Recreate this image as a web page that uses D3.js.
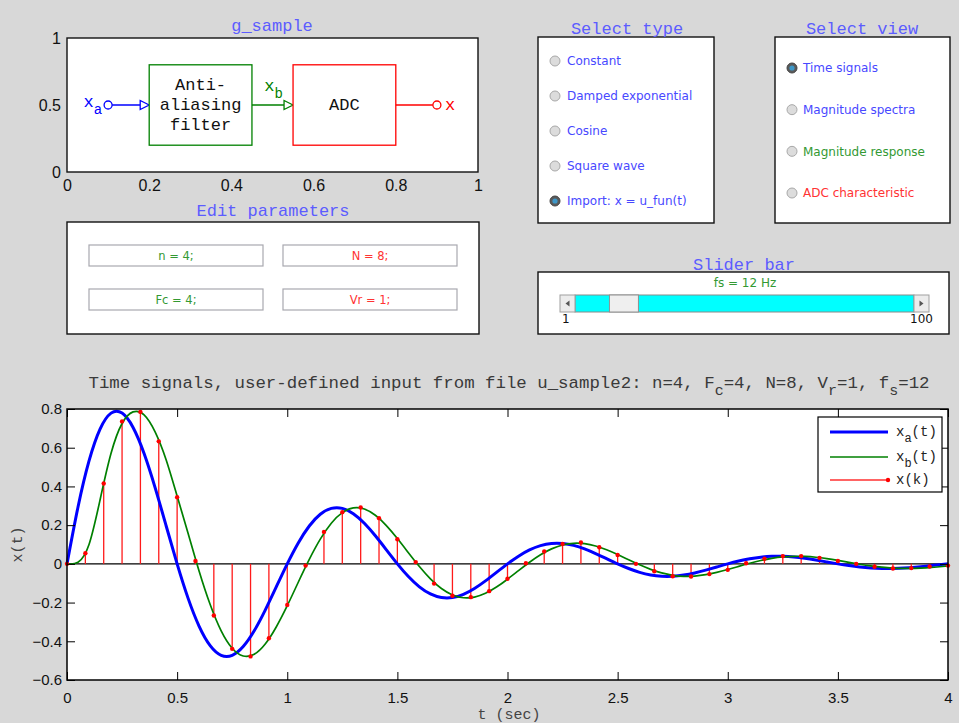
<!DOCTYPE html>
<html>
<head>
<meta charset="utf-8">
<script src="https://cdn.jsdelivr.net/npm/d3@7"></script>
<style>
  body { margin: 0; background: #d8d8d8; }
  svg { display: block; }
</style>
</head>
<body>
<svg id="fig" width="959" height="723"></svg>
<script>
// ---------- data ----------
const dt = 0.05;          // spacing of the continuous-time curves (sec)
const fs = 12;            // sampling rate (Hz)

// x_a(t), t = 0 .. 4 step 0.05
const xa = [0, 0.2939, 0.5319, 0.6963, 0.7787, 0.7788, 0.7046, 0.5701, 0.3940, 0.1970,
  0, -0.1783, -0.3226, -0.4223, -0.4723, -0.4724, -0.4273, -0.3458, -0.2390, -0.1195,
  0, 0.1081, 0.1957, 0.2562, 0.2865, 0.2865, 0.2592, 0.2097, 0.1449, 0.0725,
  0, -0.0656, -0.1187, -0.1554, -0.1737, -0.1738, -0.1572, -0.1272, -0.0879, -0.0440,
  0, 0.0398, 0.0720, 0.0942, 0.1054, 0.1054, 0.0954, 0.0772, 0.0533, 0.0267,
  0, -0.0241, -0.0437, -0.0572, -0.0639, -0.0639, -0.0578, -0.0468, -0.0323, -0.0162,
  0, 0.0146, 0.0265, 0.0347, 0.0388, 0.0388, 0.0351, 0.0284, 0.0196, 0.0098,
  0, -0.0089, -0.0161, -0.0210, -0.0235, -0.0235, -0.0213, -0.0172, -0.0119, -0.0059,
  0];

// x_b(t), same time grid
const xb = [0, 0.008, 0.10, 0.33, 0.571, 0.725, 0.785, 0.770, 0.682, 0.538,
  0.350, 0.157, -0.038, -0.210, -0.346, -0.436, -0.476, -0.467, -0.414, -0.326,
  -0.216, -0.095, 0.0229, 0.1275, 0.2101, 0.2647, 0.2888, 0.2831, 0.2509, 0.1978,
  0.1308, 0.0578, -0.0139, -0.0774, -0.1274, -0.1605, -0.1752, -0.1717, -0.1522, -0.1200,
  -0.0794, -0.0350, 0.0084, 0.0469, 0.0773, 0.0974, 0.1063, 0.1042, 0.0923, 0.0728,
  0.0481, 0.0212, -0.0051, -0.0285, -0.0469, -0.0591, -0.0644, -0.0632, -0.0560, -0.0441,
  -0.0292, -0.0129, 0.0031, 0.0173, 0.0284, 0.0358, 0.0391, 0.0383, 0.0340, 0.0268,
  0.0177, 0.0078, -0.0019, -0.0105, -0.0172, -0.0217, -0.0237, -0.0232, -0.0206, -0.0162,
  -0.0107];

// x(k), k = 0 .. 48 (t = k / fs)
const xk = [0, 0.055, 0.415, 0.736, 0.785, 0.633, 0.344, 0.015, -0.267, -0.439,
  -0.478, -0.384, -0.212, -0.009, 0.165, 0.267, 0.291, 0.236, 0.127, 0.009,
  -0.102, -0.165, -0.172, -0.141, -0.077, 0.003, 0.064, 0.103, 0.110, 0.086,
  0.046, 0.000, -0.038, -0.064, -0.065, -0.053, -0.031, 0.003, 0.026, 0.040,
  0.040, 0.031, 0.015, 0, -0.015, -0.024, -0.022, -0.014, -0.009];

const xTicks = [0, 0.5, 1, 1.5, 2, 2.5, 3, 3.5, 4];
const yTicks = [-0.6, -0.4, -0.2, 0, 0.2, 0.4, 0.6, 0.8];
const blockXTicks = [0, 0.2, 0.4, 0.6, 0.8, 1];
const blockYTicks = [0, 0.5, 1];

const typeOptions = ["Constant", "Damped exponential", "Cosine", "Square wave", "Import: x = u_fun(t)"];
const typeSelected = 4;
const viewOptions = ["Time signals", "Magnitude spectra", "Magnitude response", "ADC characteristic"];
const viewSelected = 0;
const params = [["n = 4;", "N = 8;"], ["Fc = 4;", "Vr = 1;"]];
const sliderMin = 1, sliderMax = 100;

// ---------- styles ----------
const mono = "'Liberation Mono','Courier New',monospace";
const sans = "'Liberation Sans',Arial,Helvetica,sans-serif";
const ui = "'DejaVu Sans',Verdana,sans-serif";
const uiBlue = "#4848ff", uiGreen = "#339933", uiRed = "#ff3333", titleBlue = "#5c5cff";
const viewColors = [uiBlue, uiBlue, uiGreen, uiRed];
const paramColors = [[uiGreen, uiRed], [uiGreen, uiRed]];

const svg = d3.select("#fig");
const fmt = d => d < 0 ? "\u2212" + Math.abs(d) : String(d);

function styleTicks(g, size) {
  g.select(".domain").remove();
  g.selectAll("text").attr("font-family", sans).attr("font-size", size).attr("fill", "#111");
  g.selectAll("line").attr("stroke", "#000");
}

function panelTitle(cx, cy, txt) {
  svg.append("text").attr("x", cx).attr("y", cy + 5)
    .attr("text-anchor", "middle").attr("font-family", mono).attr("font-size", 17)
    .attr("fill", titleBlue).text(txt);
}

function frame(x, y, w, h) {
  svg.append("rect").attr("x", x).attr("y", y).attr("width", w).attr("height", h)
    .attr("fill", "#fff").attr("stroke", "#111").attr("stroke-width", 1.4);
}

// ---------- block diagram ----------
const bx = d3.scaleLinear([0, 1], [67, 478]);
const by = d3.scaleLinear([0, 1], [172, 38]);

frame(bx(0), by(1), bx(1) - bx(0), by(0) - by(1));
panelTitle(272, 26, "g_sample");

svg.append("g").attr("transform", `translate(0,${by(0)})`)
  .call(d3.axisBottom(bx).tickValues(blockXTicks).tickSize(0).tickPadding(8).tickFormat(fmt))
  .call(g => styleTicks(g, 16));
svg.append("g").attr("transform", `translate(${bx(0)},0)`)
  .call(d3.axisLeft(by).tickValues(blockYTicks).tickSize(0).tickPadding(6).tickFormat(fmt))
  .call(g => styleTicks(g, 16));

const diag = svg.append("g");
function arrowHead(x, y, col) {
  diag.append("path").attr("d", `M${x},${y} L${x - 9},${y - 4.5} L${x - 9},${y + 4.5} Z`)
    .attr("fill", "#fff").attr("stroke", col).attr("stroke-width", 1.3);
}
function block(x0, x1, col, lines) {
  diag.append("rect").attr("x", bx(x0)).attr("y", by(0.8))
    .attr("width", bx(x1) - bx(x0)).attr("height", by(0.2) - by(0.8))
    .attr("fill", "#fff").attr("stroke", col).attr("stroke-width", 1.3);
  const cx = bx((x0 + x1) / 2), cy = by(0.5);
  lines.forEach((s, i) => {
    diag.append("text").attr("x", cx).attr("y", cy + 5 + (i - (lines.length - 1) / 2) * 20)
      .attr("text-anchor", "middle").attr("font-family", mono).attr("font-size", 17)
      .attr("fill", "#111").text(s);
  });
}
// input
diag.append("line").attr("x1", bx(0.1) + 4).attr("x2", bx(0.2) - 9).attr("y1", by(0.5)).attr("y2", by(0.5))
  .attr("stroke", "#0000ff").attr("stroke-width", 1.5);
diag.append("circle").attr("cx", bx(0.1)).attr("cy", by(0.5)).attr("r", 4)
  .attr("fill", "#fff").attr("stroke", "#0000ff").attr("stroke-width", 1.3);
arrowHead(bx(0.2), by(0.5), "#0000ff");
diag.append("text").attr("x", bx(0.04)).attr("y", by(0.5) + 2)
  .attr("font-family", mono).attr("font-size", 17).attr("fill", "#0000ff")
  .text("x").append("tspan").attr("dy", 7).attr("font-size", 14).text("a");
block(0.2, 0.45, "#008000", ["Anti-", "aliasing", "filter"]);
// middle
diag.append("line").attr("x1", bx(0.45)).attr("x2", bx(0.55) - 9).attr("y1", by(0.5)).attr("y2", by(0.5))
  .attr("stroke", "#008000").attr("stroke-width", 1.5);
arrowHead(bx(0.55), by(0.5), "#008000");
diag.append("text").attr("x", bx(0.48)).attr("y", by(0.5) - 14)
  .attr("font-family", mono).attr("font-size", 17).attr("fill", "#008000")
  .text("x").append("tspan").attr("dy", 7).attr("font-size", 14).text("b");
block(0.55, 0.8, "#ff0000", ["ADC"]);
// output
diag.append("line").attr("x1", bx(0.8)).attr("x2", bx(0.9) - 4).attr("y1", by(0.5)).attr("y2", by(0.5))
  .attr("stroke", "#ff0000").attr("stroke-width", 1.5);
diag.append("circle").attr("cx", bx(0.9)).attr("cy", by(0.5)).attr("r", 4)
  .attr("fill", "#fff").attr("stroke", "#ff0000").attr("stroke-width", 1.3);
diag.append("text").attr("x", bx(0.92)).attr("y", by(0.5) + 5)
  .attr("font-family", mono).attr("font-size", 17).attr("fill", "#ff0000").text("x");

// ---------- radio panels ----------
function radio(x, y, on) {
  svg.append("circle").attr("cx", x).attr("cy", y).attr("r", 5)
    .attr("fill", on ? "#5a5a5a" : "#dcdcdc").attr("stroke", on ? "#444" : "#a8a8a8");
  if (on) svg.append("circle").attr("cx", x).attr("cy", y).attr("r", 2.6).attr("fill", "#3d97c8");
}
frame(538, 37, 176, 186);
panelTitle(627, 29, "Select type");
const typeY = d3.scaleLinear([0, typeOptions.length - 1], [61, 201]);
typeOptions.forEach((s, i) => {
  radio(555, typeY(i), i === typeSelected);
  svg.append("text").attr("x", 567).attr("y", typeY(i) + 4.3)
    .attr("font-family", ui).attr("font-size", 12).attr("fill", uiBlue).text(s);
});

frame(775, 37, 175, 186);
panelTitle(862, 29, "Select view");
const viewY = d3.scaleLinear([0, viewOptions.length - 1], [68, 193]);
viewOptions.forEach((s, i) => {
  radio(792, viewY(i), i === viewSelected);
  svg.append("text").attr("x", 803).attr("y", viewY(i) + 4.3)
    .attr("font-family", ui).attr("font-size", 12).attr("fill", viewColors[i]).text(s);
});

// ---------- edit parameters ----------
frame(67, 222, 412, 112);
panelTitle(273, 211, "Edit parameters");
const editX = [89, 283], editY = [245, 289], editW = 174, editH = 21;
params.forEach((row, r) => row.forEach((s, c) => {
  svg.append("rect").attr("x", editX[c]).attr("y", editY[r]).attr("width", editW).attr("height", editH)
    .attr("fill", "#fff").attr("stroke", "#a8a8b0").attr("stroke-width", 1.2);
  svg.append("text").attr("x", editX[c] + editW / 2).attr("y", editY[r] + editH / 2 + 4)
    .attr("text-anchor", "middle").attr("font-family", ui).attr("font-size", 11.5)
    .attr("fill", paramColors[r][c]).text(s);
}));

// ---------- slider ----------
frame(538, 272, 411, 62);
panelTitle(744, 265, "Slider bar");
svg.append("text").attr("x", 745).attr("y", 287).attr("text-anchor", "middle")
  .attr("font-family", ui).attr("font-size", 12).attr("fill", uiGreen).text(`fs = ${fs} Hz`);
const trackX0 = 560, trackX1 = 929, trackY = 295, trackH = 17, btn = 15, thumbW = 29;
svg.append("rect").attr("x", trackX0 + btn).attr("y", trackY).attr("width", trackX1 - trackX0 - 2 * btn).attr("height", trackH)
  .attr("fill", "#00ffff").attr("stroke", "#8a8a8a");
[trackX0, trackX1 - btn].forEach((bx0, i) => {
  svg.append("rect").attr("x", bx0).attr("y", trackY).attr("width", btn).attr("height", trackH)
    .attr("fill", "#ececec").attr("stroke", "#a0a0a0");
  const cx = bx0 + btn / 2, cy = trackY + trackH / 2, s = i ? 1 : -1;
  svg.append("path").attr("d", `M${cx + 2 * s},${cy} L${cx - 2 * s},${cy - 3} L${cx - 2 * s},${cy + 3} Z`).attr("fill", "#555");
});
const sx = d3.scaleLinear([sliderMin, sliderMax], [trackX0 + btn, trackX1 - btn - thumbW]);
svg.append("rect").attr("x", sx(fs)).attr("y", trackY).attr("width", thumbW).attr("height", trackH)
  .attr("fill", "#efefef").attr("stroke", "#909090");
svg.append("text").attr("x", 562).attr("y", 323).attr("font-family", ui).attr("font-size", 12).attr("fill", "#111").text(sliderMin);
svg.append("text").attr("x", 933).attr("y", 323).attr("text-anchor", "end").attr("font-family", ui).attr("font-size", 12).attr("fill", "#111").text(sliderMax);

// ---------- main time-signal plot ----------
const xM = d3.scaleLinear([0, 4], [67, 948]);
const yM = d3.scaleLinear([-0.6, 0.8], [680, 409]);

svg.append("rect").attr("x", xM(0)).attr("y", yM(0.8)).attr("width", xM(4) - xM(0)).attr("height", yM(-0.6) - yM(0.8))
  .attr("fill", "#fff");

const title = svg.append("text").attr("x", 509).attr("y", 388).attr("text-anchor", "middle")
  .attr("font-family", mono).attr("font-size", 17.4).attr("fill", "#3a3a3a");
[["Time signals, user-defined input from file u_sample2: n=4, F", 0], ["c", 1], ["=4, N=8, V", 0], ["r", 1], ["=1, f", 0], ["s", 1], ["=12", 0]]
  .forEach(([s, sub], i, arr) => {
    const prev = i ? arr[i - 1][1] : 0;
    title.append("tspan").attr("dy", sub ? 7 : (prev ? -7 : 0)).attr("font-size", sub ? 15 : 17.4).text(s);
  });

const plot = svg.append("g");
plot.append("line").attr("x1", xM(0)).attr("x2", xM(4)).attr("y1", yM(0)).attr("y2", yM(0))
  .attr("stroke", "#000").attr("stroke-width", 1.2);

plot.append("g").selectAll("line").data(xk).join("line")
  .attr("x1", (d, k) => xM(k / fs)).attr("x2", (d, k) => xM(k / fs))
  .attr("y1", yM(0)).attr("y2", d => yM(d))
  .attr("stroke", "#ff1a1a").attr("stroke-width", 1.3);

const lineA = d3.line().x((d, i) => xM(i * dt)).y(d => yM(d)).curve(d3.curveNatural);
plot.append("path").attr("d", lineA(xa)).attr("fill", "none").attr("stroke", "#0000ff").attr("stroke-width", 3);
plot.append("path").attr("d", lineA(xb)).attr("fill", "none").attr("stroke", "#008000").attr("stroke-width", 1.7);

plot.append("g").selectAll("circle").data(xk).join("circle")
  .attr("cx", (d, k) => xM(k / fs)).attr("cy", d => yM(d)).attr("r", 2.2).attr("fill", "#ff0000");

// axes with inward ticks
svg.append("g").attr("transform", `translate(0,${yM(-0.6)})`)
  .call(d3.axisBottom(xM).tickValues(xTicks).tickSize(-8).tickPadding(12).tickFormat(fmt))
  .call(g => styleTicks(g, 15));
svg.append("g").attr("transform", `translate(0,${yM(0.8)})`)
  .call(d3.axisTop(xM).tickValues(xTicks).tickSize(-8).tickFormat(""))
  .call(g => styleTicks(g, 15));
svg.append("g").attr("transform", `translate(${xM(0)},0)`)
  .call(d3.axisLeft(yM).tickValues(yTicks).tickSize(-8).tickPadding(5).tickFormat(d => d === 0 ? "0" : fmt(+d.toFixed(1))))
  .call(g => styleTicks(g, 15));
svg.append("g").attr("transform", `translate(${xM(4)},0)`)
  .call(d3.axisRight(yM).tickValues(yTicks).tickSize(-8).tickFormat(""))
  .call(g => styleTicks(g, 15));

svg.append("rect").attr("x", xM(0)).attr("y", yM(0.8)).attr("width", xM(4) - xM(0)).attr("height", yM(-0.6) - yM(0.8))
  .attr("fill", "none").attr("stroke", "#000").attr("stroke-width", 1.5);

svg.append("text").attr("x", 509).attr("y", 719).attr("text-anchor", "middle")
  .attr("font-family", mono).attr("font-size", 15).attr("fill", "#444").text("t (sec)");
svg.append("text").attr("transform", `translate(22,${(yM(0.8) + yM(-0.6)) / 2}) rotate(-90)`)
  .attr("text-anchor", "middle").attr("font-family", mono).attr("font-size", 15).attr("fill", "#444").text("x(t)");

// legend
const leg = svg.append("g").attr("transform", "translate(818,417)");
leg.append("rect").attr("width", 124).attr("height", 75).attr("fill", "#fff").attr("stroke", "#000").attr("stroke-width", 1.2);
const legItems = [
  { sub: "a", tail: "(t)", color: "#0000ff", w: 3, y: 15 },
  { sub: "b", tail: "(t)", color: "#008000", w: 1.7, y: 40 },
  { sub: "", tail: "(k)", color: "#ff3030", w: 1.3, y: 63, dot: true }
];
legItems.forEach(it => {
  leg.append("line").attr("x1", 12).attr("x2", 70).attr("y1", it.y).attr("y2", it.y)
    .attr("stroke", it.color).attr("stroke-width", it.w);
  if (it.dot) leg.append("circle").attr("cx", 70).attr("cy", it.y).attr("r", 2.2).attr("fill", "#ff0000");
  const t = leg.append("text").attr("x", 78).attr("y", it.y + 4)
    .attr("font-family", mono).attr("font-size", 14).attr("fill", "#222").text("x");
  if (it.sub) {
    t.append("tspan").attr("dy", 6).attr("font-size", 12).text(it.sub);
    t.append("tspan").attr("dy", -6).attr("font-size", 14).text(it.tail);
  } else {
    t.append("tspan").text(it.tail);
  }
});
</script>
</body>
</html>
